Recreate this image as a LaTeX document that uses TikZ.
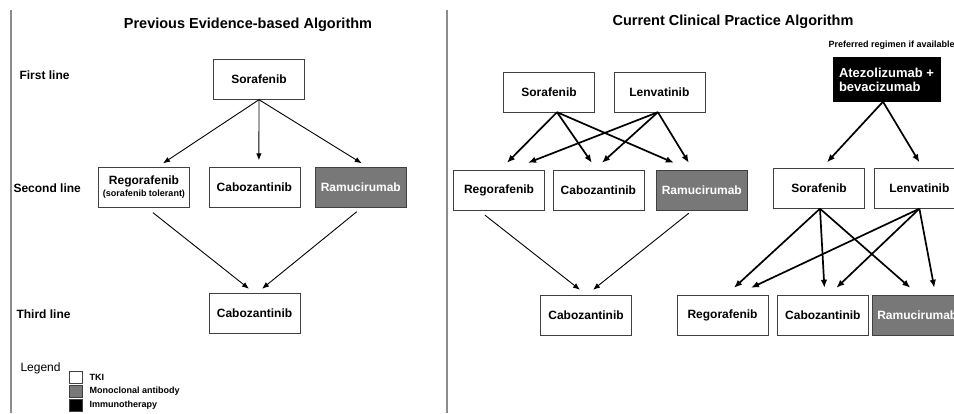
\documentclass[tikz,border=0pt]{standalone}
\usepackage{fontspec}
\setmainfont{Liberation Sans}
\usetikzlibrary{arrows.meta,positioning}

\begin{document}
\begin{tikzpicture}[
	x=1pt, y=-1pt,
	every node/.style={font=\bfseries\fontsize{12}{14}\selectfont},
	tkinode/.style={rectangle, draw=black!75, fill=white, minimum width=91pt, minimum height=40pt, inner sep=2pt, align=center},
	mabnode/.style={tkinode, fill=black!53, text=white},
	ionode/.style={rectangle, draw=black, fill=black, text=white, align=left, minimum width=107pt, minimum height=44pt, inner sep=2pt},
	rowlabel/.style={anchor=west},
	legendbox/.style={rectangle, draw=black!75, minimum width=13pt, minimum height=12pt, inner sep=0pt},
	legendtext/.style={font=\bfseries\fontsize{9}{10}\selectfont},
	thinarrow/.style={-{Latex[length=7pt,width=5.5pt]}, line width=0.9pt},
	thickarrow/.style={-{Latex[length=8pt,width=6.5pt]}, line width=1.7pt},
	]
	\useasboundingbox (0,0) rectangle (954,413);
	\fill[white] (0,0) rectangle (954,413);
	\clip (0,0) rectangle (954,413);

	%Frame
	\draw[black!45, line width=1.5pt] (11,10) -- (11,413);
	\draw[black!45, line width=1.5pt] (447,10) -- (447,413);

	%Titles
	\node (prevtitle) at (248,25) {\fontsize{14.5}{16}\selectfont Previous Evidence-based Algorithm};
	\node (currtitle) at (733,22) {\fontsize{14.5}{16}\selectfont Current Clinical Practice Algorithm};
	\node[rowlabel] (first)  at (16,75)  {First line};
	\node[rowlabel] (second) at (10,188) {Second line};
	\node[rowlabel] (third)  at (13,314) {Third line};

	%Nodes previous
	\node[tkinode] (so0)  at (259,79.5)       {Sorafenib};
	\node[tkinode] (reg0) at (144,187.5)      {Regorafenib\\[-2pt]{\fontsize{9}{10}\selectfont(sorafenib tolerant)}};
	\node[tkinode] (cab0) [right=19pt of reg0] {Cabozantinib};
	\node[mabnode] (ram0) [right=15pt of cab0] {Ramucirumab};
	\node[tkinode] (cab0b) at (254.5,313)     {Cabozantinib};

	%Nodes current
	\node[tkinode] (so1)  at (549,92)         {Sorafenib};
	\node[tkinode] (len1) [right=19pt of so1] {Lenvatinib};
	\node[tkinode] (reg1) at (499,190)        {Regorafenib};
	\node[tkinode] (cab1) [right=8pt of reg1] {Cabozantinib};
	\node[mabnode] (ram1) [right=12pt of cab1] {Ramucirumab};
	\node[tkinode] (cab2) at (586,315)        {Cabozantinib};

	\node[anchor=west, legendtext] (pref) at (825,45) {Preferred regimen if available};
	\node[ionode]  (atz)  at (886.5,79.5)     {\fontsize{13}{20}\selectfont Atezolizumab +\\\fontsize{13}{20}\selectfont bevacizumab};
	\node[tkinode] (so2)  at (819,188.5)      {Sorafenib};
	\node[tkinode] (len2) [right=9pt of so2]  {Lenvatinib};
	\node[tkinode] (reg3) at (722.5,315)      {Regorafenib};
	\node[tkinode] (cab3) [right=9pt of reg3] {Cabozantinib};
	\node[mabnode] (ram3) [right=3pt of cab3] {Ramucirumab};

	%Legend
	\node[anchor=west, font=\fontsize{12}{14}\selectfont] (legend) at (17,368) {Legend};
	\node[legendbox, fill=white]    (lgtki) at (75.5,377) {};
	\node[legendbox, fill=black!53] (lgmab) at (75.5,391) {};
	\node[legendbox, fill=black]    (lgio)  at (75.5,405) {};
	\node[legendtext, anchor=west] [right=4pt of lgtki] {TKI};
	\node[legendtext, anchor=west] [right=4pt of lgmab] {Monoclonal antibody};
	\node[legendtext, anchor=west] [right=4pt of lgio]  {Immunotherapy};

	%Lines previous
	\draw[thinarrow] (so0.south) -- ([xshift=19pt,yshift=4pt]reg0.north);
	\draw[thinarrow] (so0.south) -- ([xshift=4.5pt,yshift=7pt]cab0.north);
	\draw[thinarrow] (so0.south) -- ([xshift=1pt,yshift=4pt]ram0.north);
	\draw[thinarrow] ([xshift=9pt,yshift=-5pt]reg0.south) -- ([xshift=-5.5pt,yshift=4pt]cab0b.north);
	\draw[thinarrow] ([xshift=-4pt,yshift=-4pt]ram0.south) -- ([xshift=7.5pt,yshift=4pt]cab0b.north);

	%Lines current
	\draw[thickarrow] ([xshift=8pt]so1.south) -- ([xshift=8pt,yshift=7pt]reg1.north);
	\draw[thickarrow] ([xshift=8pt]so1.south) -- ([xshift=-6.5pt,yshift=7pt]cab1.north);
	\draw[thickarrow] ([xshift=8pt]so1.south) -- ([xshift=-28pt,yshift=7pt]ram1.north);
	\draw[thickarrow] ([xshift=-1.5pt]len1.south) -- ([xshift=29pt,yshift=7pt]reg1.north);
	\draw[thickarrow] ([xshift=-1.5pt]len1.south) -- ([xshift=3.5pt,yshift=7pt]cab1.north);
	\draw[thickarrow] ([xshift=-1.5pt]len1.south) -- ([xshift=-13pt,yshift=7pt]ram1.north);
	\draw[thinarrow] ([xshift=-14pt,yshift=-5pt]reg1.south) -- ([xshift=-6pt,yshift=5pt]cab2.north);
	\draw[thinarrow] ([xshift=-13pt,yshift=-3pt]ram1.south) -- ([xshift=7pt,yshift=5pt]cab2.north);

	\draw[thickarrow] ([xshift=-3.5pt]atz.south) -- ([xshift=8pt,yshift=6pt]so2.north);
	\draw[thickarrow] ([xshift=-3.5pt]atz.south) -- ([yshift=6pt]len2.north);
	\draw[thickarrow] ([xshift=1pt]so2.south) -- ([xshift=11.5pt,yshift=7pt]reg3.north);
	\draw[thickarrow] ([xshift=1pt]so2.south) -- ([xshift=1.5pt,yshift=7pt]cab3.north);
	\draw[thickarrow] ([xshift=1pt]so2.south) -- ([xshift=-7pt,yshift=7pt]ram3.north);
	\draw[thickarrow] (len2.south) -- ([xshift=28.5pt,yshift=7pt]reg3.north);
	\draw[thickarrow] (len2.south) -- ([xshift=13.5pt,yshift=7pt]cab3.north);
	\draw[thickarrow] (len2.south) -- ([xshift=17pt,yshift=7pt]ram3.north);
\end{tikzpicture}
\end{document}
